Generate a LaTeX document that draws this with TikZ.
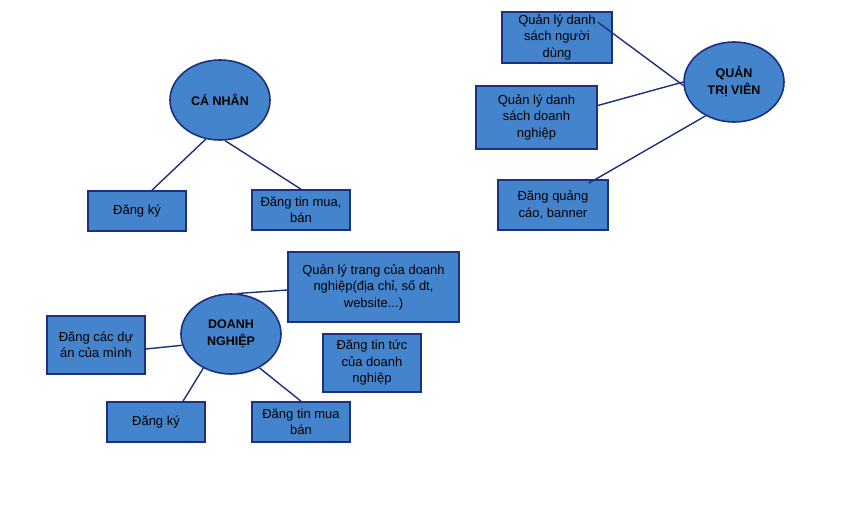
\documentclass[tikz,border=0pt]{standalone}
\usepackage{fontspec}
\setmainfont{Liberation Sans}
\usetikzlibrary{shapes.geometric}
\definecolor{fillblue}{RGB}{68,132,204}
\definecolor{edgeblue}{RGB}{28,48,128}
\tikzset{
  boxnode/.style={draw=edgeblue, line width=1.6pt, fill=fillblue, inner sep=2pt, align=center, font=\fontsize{13}{16.5}\selectfont, text=black},
  actor/.style={ellipse, draw=edgeblue, line width=1.6pt, fill=fillblue, minimum width=100pt, minimum height=80pt, inner sep=0pt, align=center, font=\fontsize{12.5}{17}\selectfont\bfseries, text=black},
  link/.style={draw=edgeblue, line width=1.4pt}
}
\begin{document}
\begin{tikzpicture}[x=1pt,y=-1pt]
\useasboundingbox (0,0) rectangle (865,516);
% Ca nhan
\node[actor] (cn) at (220,100) {CÁ NHÂN};
\node[boxnode, minimum width=98pt, minimum height=40pt] (cn1) at (137,211) {Đăng ký};
\node[boxnode, minimum width=98pt, minimum height=40pt] (cn2) at (301,210) {Đăng tin mua,\\bán};
% Quan tri vien
\node[actor] (qt) at (734,82) {QUẢN\\TRỊ VIÊN};
\node[boxnode, minimum width=110pt, minimum height=51pt] (qt1) at (557,37.5) {Quản lý danh\\sách người\\dùng};
\node[boxnode, minimum width=121pt, minimum height=63pt] (qt2) at (536.5,117.5) {Quản lý danh\\sách doanh\\nghiệp};
\node[boxnode, minimum width=110pt, minimum height=50pt] (qt3) at (553,205) {Đăng quảng\\cáo, banner};
% Doanh nghiep
\node[actor] (dn) at (231,334) {DOANH\\NGHIỆP};
\node[boxnode, minimum width=171pt, minimum height=70pt] (dn1) at (373.5,287) {Quản lý trang của doanh\\nghiệp(địa chỉ, số dt,\\website...)};
\node[boxnode, minimum width=98pt, minimum height=58pt] (dn2) at (96,345) {Đăng các dự\\án của mình};
\node[boxnode, minimum width=98pt, minimum height=58pt] (dn3) at (372,363) {Đăng tin tức\\của doanh\\nghiệp};
\node[boxnode, minimum width=98pt, minimum height=40pt] (dn4) at (156,422) {Đăng ký};
\node[boxnode, minimum width=98pt, minimum height=40pt] (dn5) at (301,422) {Đăng tin mua\\bán};
% connectors
\draw[link] (cn.250) -- ([xshift=15pt]cn1.north);
\draw[link] (cn.277) -- (cn2.north);
\draw[link] (qt.184) -- ([shift={(-15pt,-11pt)}]qt1.north east);
\draw[link] (qt.180) -- ([yshift=12pt]qt2.east);
\draw[link] (qt.230) -- ([shift={(-20pt,-4pt)}]qt3.north east);
\draw[link] (dn.81) -- ([yshift=-3pt]dn1.west);
\draw[link] (dn.193) -- ([yshift=-4pt]dn2.east);
\draw[link] (dn.231) -- ([xshift=27pt]dn4.north);
\draw[link] (dn.310) -- (dn5.north);
\end{tikzpicture}
\end{document}
